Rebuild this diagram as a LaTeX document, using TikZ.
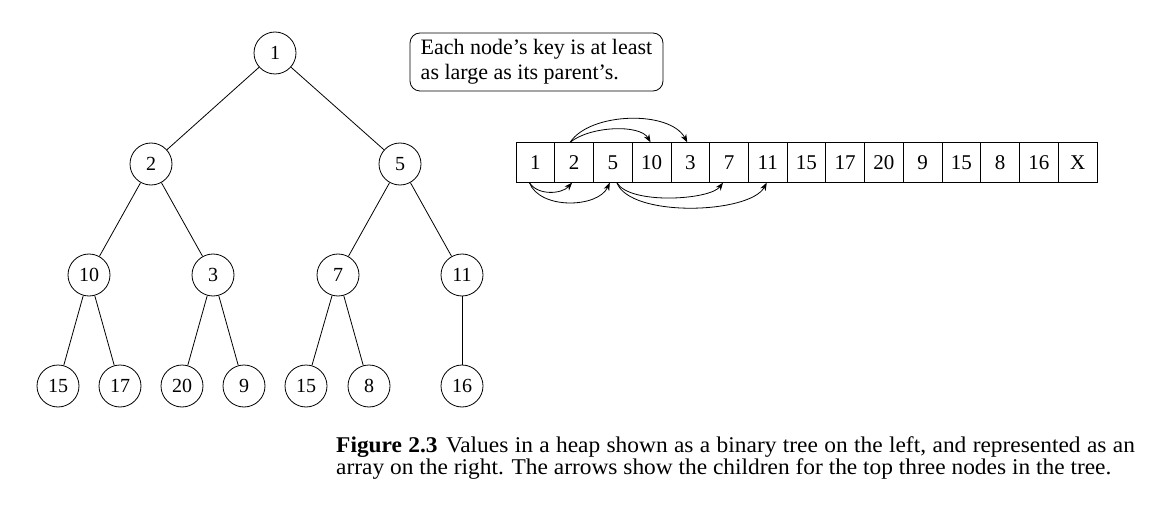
\documentclass[tikz,border=0pt]{standalone}
\usepackage{fontspec}
\setmainfont{Liberation Serif}
\newfontfamily\capfont{Liberation Serif}
\usetikzlibrary{arrows.meta}
\tikzset{
  tnode/.style={circle, draw, line width=0.8pt, minimum size=42pt, inner sep=0pt, font=\fontsize{20}{24}\selectfont},
  cell/.style={draw, line width=0.8pt, minimum width=38.73pt, minimum height=39.5pt, inner sep=0pt, font=\fontsize{21}{25}\selectfont},
  edge/.style={line width=0.8pt},
  arr/.style={line width=0.8pt, -{Stealth[length=8pt,width=6pt]}},
  note/.style={draw, line width=0.8pt, rounded corners=10pt, align=left, inner sep=0pt, minimum width=253pt, minimum height=58pt, font=\fontsize{22}{25}\selectfont},
  captext/.style={anchor=base west, inner sep=0pt, font=\capfont\fontsize{22.5}{27}\selectfont}
}
\begin{document}
\begin{tikzpicture}[x=1pt,y=-1pt]
\useasboundingbox (0,0) rectangle (1160,508);
% tree
\node[tnode] (n1) at (275,53) {1};
\node[tnode] (n2) at (151,164) {2};
\node[tnode] (n5) at (400,164) {5};
\node[tnode] (n10) at (89,275) {10};
\node[tnode] (n3) at (213,275) {3};
\node[tnode] (n7) at (338,275) {7};
\node[tnode] (n11) at (462,275) {11};
\node[tnode] (l15a) at (58,386) {15};
\node[tnode] (l17) at (120,386) {17};
\node[tnode] (l20) at (182,386) {20};
\node[tnode] (l9) at (244,386) {9};
\node[tnode] (l15b) at (306,386) {15};
\node[tnode] (l8) at (369,386) {8};
\node[tnode] (l16) at (462,386) {16};
\draw[edge] (n1) -- (n2);
\draw[edge] (n1) -- (n5);
\draw[edge] (n2) -- (n10);
\draw[edge] (n2) -- (n3);
\draw[edge] (n5) -- (n7);
\draw[edge] (n5) -- (n11);
\draw[edge] (n10) -- (l15a);
\draw[edge] (n10) -- (l17);
\draw[edge] (n3) -- (l20);
\draw[edge] (n3) -- (l9);
\draw[edge] (n7) -- (l15b);
\draw[edge] (n7) -- (l8);
\draw[edge] (n11) -- (l16);
% note
\node[note] (note) at (536.5,62) {Each node’s key is at least\\as large as its parent’s.};
% array
\foreach \v [count=\i] in {1,2,5,10,3,7,11,15,17,20,9,15,8,16,X} {
  \node[cell] (c\i) at ({516+38.73*(\i-0.5)},162.5) {\v};
}
% arrows above
\draw[arr] ([xshift=-4pt]c2.north) .. controls (590,126) and (640,124) .. ([xshift=-1pt]c4.north);
\draw[arr] ([xshift=-4pt]c2.north) .. controls (590,112) and (670,110) .. ([xshift=-3pt]c5.north);
% arrows below
\draw[arr] ([xshift=-6pt]c1.south) .. controls (538,196) and (562,194) .. ([xshift=-2pt]c2.south);
\draw[arr] ([xshift=-6pt]c1.south) .. controls (540,210) and (598,208) .. ([xshift=-3pt]c3.south);
\draw[arr] ([xshift=4pt]c3.south) .. controls (630,205) and (710,200) .. ([xshift=-6pt]c6.south);
\draw[arr] ([xshift=4pt]c3.south) .. controls (630,218) and (750,214) .. ([xshift=-1pt]c7.south);
% caption
\node[captext] (cap1) at (336,452) {\scalebox{1.04}[1]{\makebox[768pt][s]{\textbf{Figure 2.3}\hspace{8pt}Values in a heap shown as a binary tree on the left, and represented as an}}};
\node[captext] (cap2) at (336,474) {\scalebox{1.04}[1]{array on the right. The arrows show the children for the top three nodes in the tree.}};
\end{tikzpicture}
\end{document}
